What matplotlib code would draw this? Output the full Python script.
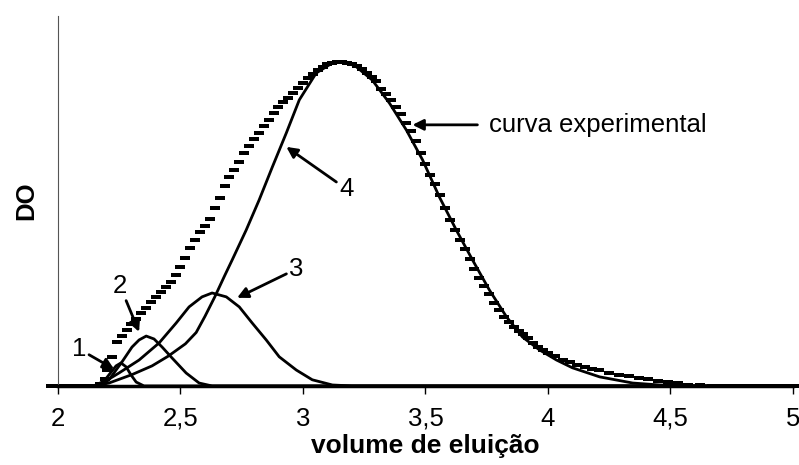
import matplotlib
matplotlib.use('Agg')
import matplotlib.pyplot as plt
from matplotlib.ticker import FuncFormatter

plt.rcParams['font.family'] = ['Liberation Sans', 'DejaVu Sans']

# experimental curve
expX = [1.97, 1.99, 2.01, 2.03, 2.05, 2.07, 2.09, 2.11, 2.13, 2.15, 2.17, 2.19,
        2.20, 2.22, 2.24, 2.26, 2.28, 2.30, 2.32, 2.34, 2.36, 2.38, 2.40, 2.42,
        2.44, 2.46, 2.48, 2.50, 2.52, 2.54, 2.56, 2.58, 2.60, 2.62, 2.64, 2.66,
        2.68, 2.70, 2.72, 2.74, 2.76, 2.78, 2.80, 2.82, 2.84, 2.86, 2.88, 2.90,
        2.92, 2.94, 2.96, 2.98, 3.00, 3.02, 3.04, 3.06, 3.08, 3.10, 3.12, 3.14,
        3.16, 3.18, 3.20, 3.22, 3.24, 3.26, 3.28, 3.30, 3.32, 3.34, 3.36, 3.38,
        3.40, 3.42, 3.44, 3.46, 3.48, 3.50, 3.52, 3.54, 3.56, 3.58, 3.60, 3.62,
        3.64, 3.66, 3.68, 3.70, 3.72, 3.74, 3.76, 3.78, 3.80, 3.82, 3.84, 3.86,
        3.88, 3.90, 3.92, 3.94, 3.96, 3.98, 4.00, 4.03, 4.06, 4.09, 4.12, 4.15,
        4.18, 4.21, 4.25, 4.29, 4.33, 4.37, 4.41, 4.45, 4.49, 4.53, 4.57, 4.62,
        4.67, 4.71, 4.75, 4.79, 4.83, 4.87, 4.91, 4.95, 4.99, 5.02]
expY = [0, 0, 0, 0, 0, 0, 0, 0, 0, 0, 0.005, 0.02,
        0.05, 0.09, 0.135, 0.155, 0.172, 0.19, 0.208, 0.224, 0.242, 0.26, 0.276, 0.291,
        0.306, 0.322, 0.342, 0.366, 0.395, 0.425, 0.452, 0.476, 0.495, 0.515, 0.55, 0.58,
        0.617, 0.645, 0.668, 0.692, 0.718, 0.741, 0.761, 0.782, 0.802, 0.822, 0.842, 0.86,
        0.875, 0.89, 0.905, 0.919, 0.935, 0.95, 0.962, 0.975, 0.985, 0.993, 0.998, 1.0,
        1.0, 0.998, 0.994, 0.988, 0.979, 0.967, 0.955, 0.94, 0.918, 0.9, 0.882, 0.862,
        0.838, 0.813, 0.786, 0.755, 0.72, 0.685, 0.652, 0.622, 0.588, 0.548, 0.512, 0.482,
        0.452, 0.422, 0.392, 0.362, 0.333, 0.307, 0.283, 0.257, 0.234, 0.214, 0.196, 0.182,
        0.17, 0.16, 0.147, 0.133, 0.121, 0.111, 0.102, 0.091, 0.081, 0.073, 0.066, 0.059,
        0.053, 0.048, 0.04, 0.034, 0.03, 0.025, 0.02, 0.016, 0.012, 0.008, 0.004, 0.002,
        0, 0, 0, 0, 0, 0, 0, 0, 0, 0]

# component peaks
c1X = [1.97, 2.147, 2.188, 2.217, 2.237, 2.257, 2.278, 2.298, 2.319, 2.351, 5.02]
c1Y = [0, 0, 0.015, 0.043, 0.062, 0.071, 0.059, 0.034, 0.012, 0, 0]

c2X = [1.97, 2.168, 2.208, 2.261, 2.302, 2.331, 2.36, 2.392, 2.425, 2.466, 2.523, 2.576, 2.629, 5.02]
c2Y = [0, 0, 0.019, 0.074, 0.12, 0.142, 0.154, 0.145, 0.12, 0.086, 0.04, 0.009, 0, 0]

c3X = [1.97, 2.12, 2.168, 2.249, 2.331, 2.413, 2.482, 2.535, 2.588, 2.629, 2.687, 2.74,
       2.793, 2.85, 2.903, 2.973, 3.038, 3.12, 3.2, 5.02]
c3Y = [0, 0, 0.003, 0.04, 0.08, 0.133, 0.194, 0.244, 0.275, 0.287, 0.275, 0.244,
       0.194, 0.142, 0.09, 0.049, 0.019, 0.003, 0, 0]

c4X = [1.97, 2.15, 2.208, 2.302, 2.384, 2.45, 2.52, 2.564, 2.60, 2.64, 2.68, 2.711, 2.768,
       2.821, 2.875, 2.932, 2.985, 3.054, 3.12, 3.177, 3.218, 3.283, 3.353, 3.422, 3.488,
       3.557, 3.626, 3.692, 3.761, 3.831, 3.896, 3.966, 4.035, 4.10, 4.211, 4.346,
       4.456, 4.62, 5.02]
c4Y = [0, 0, 0.009, 0.035, 0.062, 0.092, 0.13, 0.165, 0.215, 0.275, 0.34, 0.389, 0.481,
       0.574, 0.676, 0.781, 0.883, 0.966, 0.997, 1.0, 0.985, 0.944, 0.873, 0.79, 0.698,
       0.583, 0.481, 0.389, 0.296, 0.213, 0.151, 0.111, 0.08, 0.056, 0.028, 0.009,
       0.003, 0, 0]

xTicks = [2, 2.5, 3, 3.5, 4, 4.5, 5]

fig = plt.figure(figsize=(7.99, 4.65), dpi=100)
ax = fig.add_axes([0.0726, 0.17, 0.9198, 0.7956])

rect = [(-1, -0.5), (1, -0.5), (1, 0.5), (-1, 0.5)]
for cx, cy in [(c1X, c1Y), (c2X, c2Y), (c3X, c3Y), (c4X, c4Y)]:
    ax.plot(cx, cy, color='black', lw=2, clip_on=False)
ax.plot(expX, expY, ls='none', marker=rect, ms=6.6, color='black', mew=0, clip_on=False)

ax.set_xlim(2, 5)
ax.set_ylim(0, 1.142)
ax.set_xticks(xTicks)
ax.xaxis.set_major_formatter(FuncFormatter(lambda v, p: ('%g' % v).replace('.', ',')))
ax.set_yticks([])
ax.tick_params(axis='x', length=6, width=1, direction='out', labelsize=18.5, pad=9, color='black')
for s in ['top', 'right']:
    ax.spines[s].set_visible(False)
ax.spines['left'].set_color('#555555')
ax.spines['left'].set_linewidth(0.8)
ax.spines['bottom'].set_linewidth(2.5)
ax.set_xlabel('volume de eluição', fontsize=19, fontweight='bold', labelpad=2)
ax.set_ylabel('DO', fontsize=18.5, fontweight='bold', labelpad=14)

arrow = dict(arrowstyle='-|>', color='black', lw=2, mutation_scale=16, shrinkA=0, shrinkB=0)
fs = 18.5
ax.annotate('1', xy=(2.229, 0.052), xytext=(2.086, 0.114), fontsize=fs,
            ha='center', va='center', arrowprops=arrow)
ax.annotate('2', xy=(2.331, 0.167), xytext=(2.253, 0.309), fontsize=fs,
            ha='center', va='center', arrowprops=arrow)
ax.annotate('3', xy=(2.731, 0.272), xytext=(2.973, 0.361), fontsize=fs,
            ha='center', va='center', arrowprops=arrow)
ax.annotate('4', xy=(2.932, 0.738), xytext=(3.177, 0.608), fontsize=fs,
            ha='center', va='center', arrowprops=arrow)
ax.annotate('', xy=(3.447, 0.806), xytext=(3.712, 0.806), arrowprops=arrow)
ax.text(3.761, 0.806, 'curva experimental', fontsize=fs, ha='left', va='center')

fig.savefig('out.png', dpi=100)
